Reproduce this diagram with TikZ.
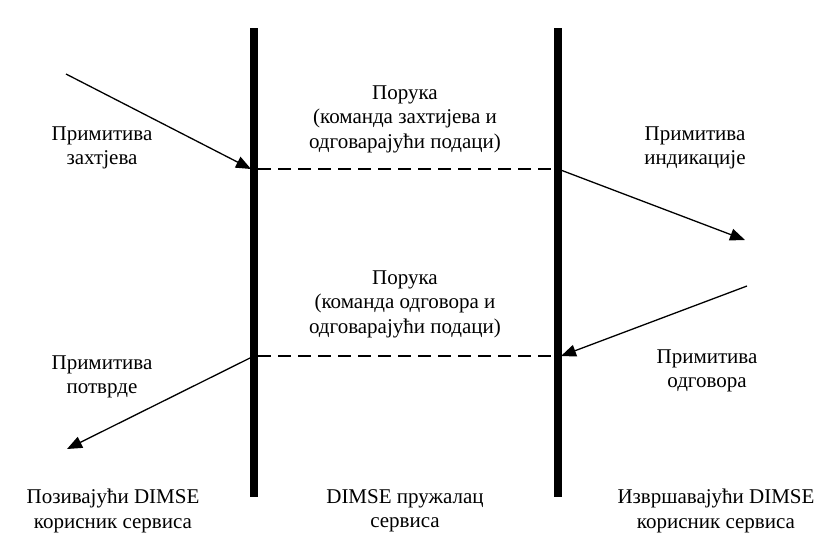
\documentclass[tikz,border=0pt]{standalone}
\usepackage{fontspec}
\setmainfont{Liberation Serif}
\usetikzlibrary{arrows.meta}
\begin{document}
\begin{tikzpicture}[x=1pt,y=-1pt,
  lbl/.style={align=center,font=\fontsize{21}{24.5}\selectfont,inner sep=0pt},
  lifeline/.style={line width=8pt},
  msg/.style={line width=1.4pt,dash pattern=on 13pt off 7pt},
  prim/.style={line width=1.3pt,-{Triangle[length=15pt,width=12pt]}}]
\useasboundingbox[fill=white] (0,0) rectangle (816,533);

% lifelines
\coordinate (lt) at (254,28);  \coordinate (lb) at (254,497);
\coordinate (rt) at (558,28);  \coordinate (rb) at (558,497);
\draw[lifeline] (lt) -- (lb);
\draw[lifeline] (rt) -- (rb);

% connection points on the lifelines
\coordinate (lreq) at (251,169);
\coordinate (rind) at (558,169);
\coordinate (rrsp) at (561,356);
\coordinate (lcnf) at (252,357);

% free ends of the primitives
\coordinate (reqstart) at (66,74);
\coordinate (indend) at (745,240);
\coordinate (rspstart) at (747,286);
\coordinate (cnfend) at (67,449);

% messages through the provider
\draw[msg] (258,169) -- (554,169);
\draw[msg] (258,356) -- (554,356);

% primitives
\draw[prim] (reqstart) -- (lreq);
\draw[prim] (rind) -- (indend);
\draw[prim] (rspstart) -- (rrsp);
\draw[prim] (lcnf) -- (cnfend);

% labels
\node[lbl] (treq) at (102,148) {Примитива\\захтјева};
\node[lbl] (tind) at (695,148) {Примитива\\индикације};
\node[lbl] (trsp) at (707,371) {Примитива\\одговора};
\node[lbl] (tcnf) at (102,377) {Примитива\\потврде};
\node[lbl] (m1) at (405,119) {Порука\\(команда захтијева и\\одговарајући подаци)};
\node[lbl] (m2) at (405,304) {Порука\\(команда одговора и\\одговарајући подаци)};
\node[lbl] (u1) at (113,511) {Позивајући DIMSE\\корисник сервиса};
\node[lbl] (u2) at (405,511) {DIMSE пружалац\\сервиса};
\node[lbl] (u3) at (716,511) {Извршавајући DIMSE\\корисник сервиса};
\end{tikzpicture}
\end{document}
